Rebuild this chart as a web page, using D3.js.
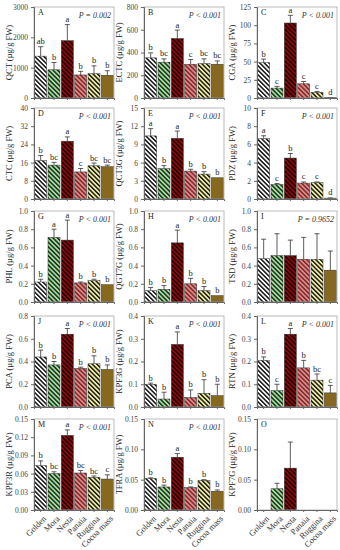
<!DOCTYPE html>
<html>
<head>
<meta charset="utf-8">
<script src="https://cdn.jsdelivr.net/npm/d3@7"></script>
<style>
  body { margin: 0; background: #fff; }
  svg { display: block; font-family: "Liberation Serif", "DejaVu Serif", serif; }
</style>
</head>
<body>
<script>
const width = 340;
const height = 550;

const cultivars = ["Golden", "Mora", "Nesta", "Panaia", "Ruggina", "Cocoa mass"];

// values, upper error, significance letters
const qct = [1380, 930, 1890, 760, 800, 750];
const qctErr = [1690, 1170, 2420, 880, 1060, 900];
const qctSig = ["ab", "b", "a", "b", "b", "b"];

const ectc = [353, 315, 523, 297, 303, 297];
const ectcErr = [397, 344, 597, 338, 344, 326];
const ectcSig = ["b", "bc", "a", "c", "bc", "bc"];

const cga = [48.6, 13.6, 103, 19.5, 7.7, 0.5];
const cgaErr = [53.5, 16, 113.6, 22.7, 9, 0.6];
const cgaSig = ["b", "c", "a", "c", "c", "d"];

const ctc = [16.9, 14.9, 25.4, 11.9, 14.6, 14.2];
const ctcErr = [19.1, 16.1, 27.3, 13.4, 15.8, 14.9];
const ctcSig = ["b", "bc", "a", "c", "bc", "bc"];

const qct3g = [10.4, 5.0, 10.0, 4.6, 4.1, 3.5];
const qct3gErr = [11.6, 5.5, 11.2, 4.9, 4.5, 3.5];
const qct3gSig = ["a", "b", "a", "b", "b", "b"];

const pdz = [6.64, 1.6, 4.5, 1.75, 1.8, 0.1];
const pdzErr = [6.95, 1.7, 5.0, 1.87, 1.87, 0.12];
const pdzSig = ["a", "c", "b", "c", "c", "d"];

const phl = [0.22, 0.71, 0.68, 0.21, 0.235, 0.19];
const phlErr = [0.25, 0.80, 0.90, 0.22, 0.25, 0.19];
const phlSig = ["b", "a", "a", "b", "b", "b"];

const qgt7g = [0.125, 0.14, 0.65, 0.2, 0.125, 0.07];
const qgt7gErr = [0.16, 0.18, 0.79, 0.26, 0.17, 0.07];
const qgt7gSig = ["b", "b", "a", "b", "b", "b"];

const tsd = [0.475, 0.51, 0.51, 0.47, 0.47, 0.35];
const tsdErr = [0.69, 0.75, 0.68, 0.71, 0.75, 0.56];
const tsdSig = ["", "", "", "", "", ""];

const pca = [0.44, 0.37, 0.64, 0.34, 0.38, 0.33];
const pcaErr = [0.5, 0.40, 0.69, 0.35, 0.45, 0.37];
const pcaSig = ["b", "b", "a", "b", "b", "b"];

const kpf3g = [0.10, 0.035, 0.275, 0.042, 0.06, 0.05];
const kpf3gErr = [0.105, 0.065, 0.33, 0.075, 0.12, 0.1];
const kpf3gSig = ["b", "b", "a", "b", "b", "b"];

const rtn = [0.205, 0.072, 0.32, 0.172, 0.118, 0.062];
const rtnErr = [0.22, 0.1, 0.345, 0.205, 0.145, 0.095];
const rtnSig = ["b", "c", "a", "b", "bc", "c"];

const kpf3r = [0.073, 0.06, 0.123, 0.061, 0.054, 0.051];
const kpf3rErr = [0.081, 0.063, 0.132, 0.065, 0.056, 0.058];
const kpf3rSig = ["b", "bc", "a", "bc", "bc", "c"];

const tfra = [0.052, 0.038, 0.087, 0.037, 0.049, 0.031];
const tfraErr = [0.053, 0.041, 0.093, 0.038, 0.05, 0.033];
const tfraSig = ["b", "b", "a", "b", "b", "b"];

const kpf7g = [0, 0.035, 0.069, 0, 0, 0];
const kpf7gErr = [0, 0.044, 0.112, 0, 0, 0];
const kpf7gSig = ["", "", "", "", "", ""];

const panelNames = ["A", "B", "C", "D", "E", "F", "G", "H", "I", "J", "K", "L", "M", "N", "O"];
const yLabels = ["QCT", "ECTC", "CGA", "CTC", "QCT3G", "PDZ", "PHL", "QGT7G", "TSD", "PCA", "KPF3G", "RTN", "KPF3R", "TFRA", "KPF7G"];
const pTexts = ["P = 0.002", "P < 0.001", "P < 0.001", "P < 0.001", "P < 0.001", "P < 0.001",
    "P < 0.001", "P < 0.001", "P = 0.9652", "P < 0.001", "P < 0.001", "P < 0.001",
    "P < 0.001", "P < 0.001", ""];
const yTicks = [
    [0, 1000, 2000, 3000], [0, 200, 400, 600, 800], [0, 25, 50, 75, 100, 125],
    [0, 8, 16, 24, 32, 40], [0, 3, 6, 9, 12, 15], [0, 2, 4, 6, 8, 10],
    [0, 0.2, 0.4, 0.6, 0.8, 1.0], [0, 0.2, 0.4, 0.6, 0.8, 1.0], [0, 0.2, 0.4, 0.6, 0.8, 1.0],
    [0, 0.2, 0.4, 0.6, 0.8], [0, 0.1, 0.2, 0.3, 0.4], [0, 0.1, 0.2, 0.3, 0.4],
    [0, 0.03, 0.06, 0.09, 0.12, 0.15], [0, 0.05, 0.10, 0.15], [0, 0.05, 0.10, 0.15]
];
const tickFormats = ["d", "d", "d", "d", "d", "d", ".1f", ".1f", ".1f", ".1f", ".1f", ".1f", ".2f", ".2f", ".2f"];

const values = [qct, ectc, cga, ctc, qct3g, pdz, phl, qgt7g, tsd, pca, kpf3g, rtn, kpf3r, tfra, kpf7g];
const errs = [qctErr, ectcErr, cgaErr, ctcErr, qct3gErr, pdzErr, phlErr, qgt7gErr, tsdErr, pcaErr, kpf3gErr, rtnErr, kpf3rErr, tfraErr, kpf7gErr];
const sigs = [qctSig, ectcSig, cgaSig, ctcSig, qct3gSig, pdzSig, phlSig, qgt7gSig, tsdSig, pcaSig, kpf3gSig, rtnSig, kpf3rSig, tfraSig, kpf7gSig];

const fills = [
    { bg: "#ffffff", line: "#111111" },
    { bg: "#9fe09a", line: "#1d2b1d" },
    { bg: "#8e0a0a", line: "#1a0000" },
    { bg: "#e08a88", line: "#7a2a2a" },
    { bg: "#f2f0a8", line: "#1a1a10" },
    { bg: "#86691f", line: "#86691f" }
];

const colLeft = [34, 144, 257];
const rowTop = [7, 108, 211, 316, 419];
const plotW = 80;
const plotH = 91;
const axisColor = "#666";

let svg = d3.select("body").append("svg")
    .attr("width", width)
    .attr("height", height);

let defs = svg.append("defs");
fills.forEach(function (f, i) {
    let p = defs.append("pattern")
        .attr("id", "pat" + i)
        .attr("patternUnits", "userSpaceOnUse")
        .attr("width", 3.2)
        .attr("height", 3.2)
        .attr("patternTransform", "rotate(-45)");
    p.append("rect").attr("width", 3.2).attr("height", 3.2).attr("fill", f.bg);
    p.append("rect").attr("width", 1.5).attr("height", 3.2).attr("fill", f.line);
});

panelNames.forEach(function (name, k) {
    let col = k % 3;
    let row = Math.floor(k / 3);
    let ticks = yTicks[k];
    let g = svg.append("g")
        .attr("transform", "translate(" + colLeft[col] + "," + rowTop[row] + ")");

    let x = d3.scaleBand().domain(cultivars).range([0, plotW]).paddingInner(0.1).paddingOuter(0.05);
    let y = d3.scaleLinear().domain([0, ticks[ticks.length - 1]]).range([plotH, 0]);

    let data = cultivars.map(function (c, i) {
        return { name: c, i: i, v: values[k][i], e: errs[k][i], s: sigs[k][i] };
    });

    g.selectAll(".bar").data(data).enter().append("rect")
        .attr("class", "bar")
        .attr("x", d => x(d.name))
        .attr("width", x.bandwidth())
        .attr("y", d => y(d.v))
        .attr("height", d => plotH - y(d.v))
        .attr("fill", d => "url(#pat" + d.i + ")")
        .attr("stroke", d => d.v > 0 ? "#333" : "none")
        .attr("stroke-width", 0.5);

    let eb = g.selectAll(".err").data(data.filter(d => d.e > d.v)).enter().append("g");
    eb.append("line")
        .attr("x1", d => x(d.name) + x.bandwidth() / 2)
        .attr("x2", d => x(d.name) + x.bandwidth() / 2)
        .attr("y1", d => y(d.v))
        .attr("y2", d => y(d.e))
        .attr("stroke", "#333").attr("stroke-width", 0.8);
    eb.append("line")
        .attr("x1", d => x(d.name) + x.bandwidth() / 2 - 2.5)
        .attr("x2", d => x(d.name) + x.bandwidth() / 2 + 2.5)
        .attr("y1", d => y(d.e))
        .attr("y2", d => y(d.e))
        .attr("stroke", "#333").attr("stroke-width", 0.8);

    g.selectAll(".sig").data(data.filter(d => d.s)).enter().append("text")
        .attr("x", d => x(d.name) + x.bandwidth() / 2)
        .attr("y", d => y(Math.max(d.e, d.v)) - 2.5)
        .attr("text-anchor", "middle")
        .attr("font-size", 8.5)
        .attr("fill", "#222")
        .text(d => d.s);

    // frame
    g.append("rect")
        .attr("width", plotW).attr("height", plotH)
        .attr("fill", "none").attr("stroke", "#aaa").attr("stroke-width", 0.8);

    let yAxis = g.append("g").call(
        d3.axisLeft(y).tickValues(ticks).tickSize(3).tickFormat(d3.format(tickFormats[k])));
    yAxis.selectAll("path, line").attr("stroke", axisColor);
    yAxis.selectAll("text").attr("font-size", 7.5).attr("fill", "#444")
        .attr("font-family", "Liberation Serif, serif");
    yAxis.select(".domain").attr("stroke", axisColor);

    let xAxis = g.append("g").attr("transform", "translate(0," + plotH + ")")
        .call(d3.axisBottom(x).tickSize(2).tickFormat(""));
    xAxis.selectAll("path, line").attr("stroke", axisColor);

    if (row === 4) {
        xAxis.selectAll(".tick").append("text")
            .attr("transform", "translate(2,5) rotate(-45)")
            .attr("text-anchor", "end")
            .attr("dy", "0.7em")
            .attr("font-size", 8.5)
            .attr("fill", "#333")
            .attr("font-family", "Liberation Serif, serif")
            .text(d => d);
    }

    g.append("text")
        .attr("x", 4).attr("y", 8)
        .attr("font-size", 8)
        .attr("fill", "#222")
        .text(name);

    if (pTexts[k]) {
        g.append("text")
            .attr("x", plotW - 3).attr("y", 11)
            .attr("text-anchor", "end")
            .attr("font-size", 8)
            .attr("font-style", "italic")
            .attr("fill", "#333")
            .text(pTexts[k]);
    }

    g.append("text")
        .attr("transform", "translate(" + (-22) + "," + (plotH / 2) + ") rotate(-90)")
        .attr("text-anchor", "middle")
        .attr("font-size", 8.5)
        .attr("fill", "#222")
        .text(yLabels[k] + " (µg/g FW)");
});
</script>
</body>
</html>
